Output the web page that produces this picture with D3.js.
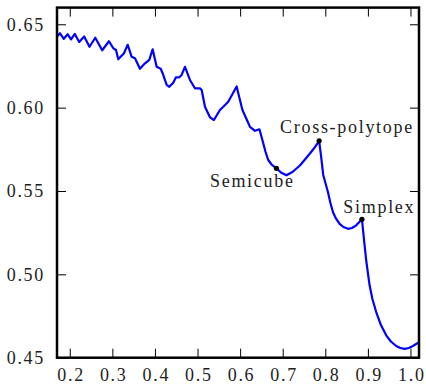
<!DOCTYPE html>
<html>
<head>
<meta charset="utf-8">
<script src="https://cdn.jsdelivr.net/npm/d3@7"></script>
<style>
  html, body { margin: 0; padding: 0; background: #fff; }
</style>
</head>
<body>
<svg id="chart" width="426" height="384"></svg>
<script>
// ---- data ----
const xValues = [0.1712,0.1770,0.1860,0.1951,0.2029,0.2118,0.2221,0.2338,0.2463,0.2599,
  0.2761,0.2921,0.3022,0.3085,0.3139,0.3273,0.3360,0.3454,0.3531,0.3648,
  0.3766,0.3867,0.3946,0.4040,0.4134,0.4181,0.4275,0.4336,0.4430,0.4493,
  0.4571,0.4627,0.4705,0.4822,0.4939,0.5057,0.5097,0.5174,0.5292,0.5385,
  0.5526,0.5604,0.5721,0.5918,0.6054,0.6231,0.6348,0.6454,0.6543,0.6594,
  0.6660,0.6747,0.6853,0.6958,0.7087,0.7228,0.7404,0.7522,0.7639,0.7760,
  0.7855,0.7897,0.7951,0.8062,0.8120,0.8179,0.8249,0.8336,0.8425,0.8531,
  0.8625,0.8726,0.8860,0.8923,0.8965,0.9040,0.9106,0.9195,0.9306,0.9430,
  0.9540,0.9665,0.9763,0.9862,0.9963,1.0057,1.0210];
const yValues = [0.6430,0.6446,0.6413,0.6440,0.6410,0.6442,0.6394,0.6427,0.6365,0.6419,
  0.6344,0.6398,0.6356,0.6346,0.6290,0.6326,0.6377,0.6305,0.6296,0.6233,
  0.6266,0.6286,0.6350,0.6245,0.6233,0.6206,0.6136,0.6125,0.6149,0.6182,
  0.6182,0.6196,0.6245,0.6166,0.6116,0.6116,0.6106,0.6005,0.5942,0.5926,
  0.5986,0.6005,0.6035,0.6127,0.5986,0.5885,0.5861,0.5870,0.5786,0.5737,
  0.5686,0.5656,0.5636,0.5611,0.5594,0.5614,0.5653,0.5689,0.5725,0.5764,
  0.5801,0.5716,0.5596,0.5494,0.5428,0.5374,0.5335,0.5303,0.5284,0.5273,
  0.5278,0.5294,0.5330,0.5174,0.5074,0.4934,0.4852,0.4774,0.4696,0.4634,
  0.4597,0.4570,0.4558,0.4553,0.4558,0.4570,0.4594];

const annotationNames = ["Semicube", "Cross-polytope", "Simplex"];
const annotationX = [0.6853, 0.7855, 0.8860];
const annotationY = [0.5636, 0.5801, 0.5330];

const xTicks = [0.2, 0.3, 0.4, 0.5, 0.6, 0.7, 0.8, 0.9, 1.0];
const yTicks = [0.45, 0.50, 0.55, 0.60, 0.65];
const xDomain = [0.17, 1.02];
const yDomain = [0.45, 0.66];

// ---- layout ----
const L = 57, R = 419, T = 7.6, B = 357.7;
const svg = d3.select("#chart");
const x = d3.scaleLinear().domain(xDomain).range([L, R]);
const y = d3.scaleLinear().domain(yDomain).range([B, T]);
const tickLen = 9;
const fs = 18;
const ls = 1.7;
const font = "Liberation Serif";

function styleAxis(g) {
  g.select(".domain").remove();
  g.selectAll(".tick line").attr("stroke", "#000").attr("stroke-width", 1);
}
function styleText(g) {
  g.selectAll("text").attr("font-size", fs).attr("font-family", font)
    .attr("fill", "#222").attr("letter-spacing", ls);
}
const bottomAxis = svg.append("g").attr("transform", `translate(0,${B})`)
  .call(d3.axisBottom(x).tickValues(xTicks).tickSizeInner(-tickLen).tickSizeOuter(0).tickPadding(11).tickFormat(d3.format(".1f")))
  .call(styleAxis).call(styleText);
bottomAxis.selectAll("text").attr("dx", ls / 2);
svg.append("g").attr("transform", `translate(0,${T})`)
  .call(d3.axisTop(x).tickValues(xTicks).tickSizeInner(-tickLen).tickSizeOuter(0).tickFormat(""))
  .call(styleAxis);
svg.append("g").attr("transform", `translate(${L},0)`)
  .call(d3.axisLeft(y).tickValues(yTicks).tickSizeInner(-tickLen).tickSizeOuter(0).tickPadding(12).tickFormat(d3.format(".2f")))
  .call(styleAxis).call(styleText);
svg.append("g").attr("transform", `translate(${R},0)`)
  .call(d3.axisRight(y).tickValues(yTicks).tickSizeInner(-tickLen).tickSizeOuter(0).tickFormat(""))
  .call(styleAxis);

svg.append("clipPath").attr("id", "clip").append("rect")
  .attr("x", L).attr("y", T).attr("width", R - L).attr("height", B - T);

// curve
const pts = xValues.map((v, i) => [v, yValues[i]]);
svg.append("path")
  .datum(pts)
  .attr("clip-path", "url(#clip)")
  .attr("fill", "none")
  .attr("stroke", "#0000ff")
  .attr("stroke-width", 2.2)
  .attr("stroke-linejoin", "round")
  .attr("d", d3.line().x(d => x(d[0])).y(d => y(d[1])).curve(d3.curveLinear));

// annotations
const labelOffsets = [[-25, 18.5], [27, -7.5], [16.5, -6.6]];
annotationNames.forEach((name, i) => {
  const cx = x(annotationX[i]), cy = y(annotationY[i]);
  svg.append("circle").attr("cx", cx).attr("cy", cy).attr("r", 2.6).attr("fill", "#000");
  svg.append("text").attr("x", cx + labelOffsets[i][0] + ls / 2).attr("y", cy + labelOffsets[i][1])
    .attr("text-anchor", "middle").attr("font-size", fs).attr("font-family", font)
    .attr("letter-spacing", ls).attr("fill", "#222").text(name);
});

// frame
svg.append("rect").attr("x", L).attr("y", T).attr("width", R - L).attr("height", B - T)
  .attr("fill", "none").attr("stroke", "#000").attr("stroke-width", 2.5);
</script>
</body>
</html>
